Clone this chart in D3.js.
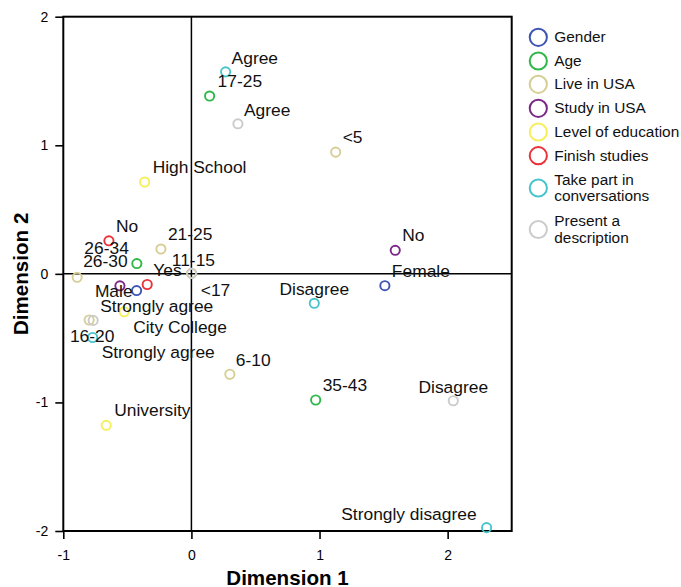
<!DOCTYPE html>
<html>
<head>
<meta charset="utf-8">
<script src="https://cdn.jsdelivr.net/npm/d3@7"></script>
<style>
  html, body { margin: 0; padding: 0; background: #fff; }
  svg { display: block; font-family: "Liberation Sans", Arial, sans-serif; }
</style>
</head>
<body>
<svg id="chart" width="681" height="587"></svg>
<script>
// Variable groups (legend order) and their colours
const groups = ["Gender", "Age", "Live in USA", "Study in USA", "Level of education",
                "Finish studies", "Take part in\nconversations", "Present a\ndescription"];
const groupColors = ["#3e55b6", "#2fb84a", "#d6ce94", "#7a2a86", "#f6ef5c",
                     "#ea3339", "#48c5cc", "#cbcbcb"];

// Category points: label, group index, Dimension 1, Dimension 2
const pointLabels = ["Male", "Female",
                     "17-25", "26-34", "35-43",
                     "<5", "6-10", "11-15", "16-20", "21-25", "26-30",
                     "Yes", "No",
                     "High School", "City College", "University",
                     "Yes", "No",
                     "Agree", "Disagree", "Strongly agree", "Strongly disagree",
                     "Agree", "Disagree", "Strongly agree", "<17"];
const pointGroup  = [0, 0,
                     1, 1, 1,
                     2, 2, 2, 2, 2, 2,
                     3, 3,
                     4, 4, 4,
                     5, 5,
                     6, 6, 6, 6,
                     7, 7, 7, 7];
const dim1 = [-0.428, 1.51,
              0.142, -0.426, 0.97,
              1.126, 0.30, 0.00, -0.798, -0.238, -0.892,
              -0.558, 1.591,
              -0.365, -0.525, -0.665,
              -0.345, -0.644,
              0.267, 0.959, -0.771, 2.304,
              0.363, 2.044, -0.767, 0.003];
const dim2 = [-0.130, -0.092,
              1.383, 0.080, -0.981,
              0.947, -0.781, 0.004, -0.359, 0.193, -0.027,
              -0.093, 0.183,
              0.714, -0.295, -1.178,
              -0.083, 0.257,
              1.571, -0.229, -0.495, -1.974,
              1.167, -0.987, -0.362, 0.004];
const showLabel = [true, true,
                   true, true, true,
                   true, true, true, true, true, true,
                   false, true,
                   true, true, true,
                   true, true,
                   true, true, true, true,
                   true, true, true, true];

// Label placement relative to each point: [dx, dy, text-anchor]
const labelPlacement = [
  [-4, 6, "end"], [7, -9, "start"],
  [8, -9, "start"], [-8, -10, "end"], [7, -9, "start"],
  [7, -9, "start"], [6, -8, "start"], [2, -7, "middle"], [3, 22, "middle"], [7, -9, "start"], [6, -10, "start"],
  [7, -9, "start"], [7, -9, "start"],
  [8, -9, "start"], [9, 21, "start"], [8, -9, "start"],
  [6, -9, "start"], [7, -9, "start"],
  [6, -8, "start"], [0, -8, "middle"], [9, 21, "start"], [-10, -8, "end"],
  [6, -8, "start"], [0, -8, "middle"], [7, -8, "start"], [9, 23, "start"]
];

const xTicks = [-1, 0, 1, 2];
const yTicks = [-2, -1, 0, 1, 2];

const svg = d3.select("#chart");
const plotLeft = 63.3, plotRight = 511.7, plotTop = 16.7, plotBottom = 531;

const x = d3.scaleLinear().domain([-1, 2.5]).range([plotLeft, plotRight]);
const y = d3.scaleLinear().domain([-2, 2]).range([plotBottom, plotTop]);

// Axes with outward ticks
const xAxis = svg.append("g")
  .attr("transform", `translate(0,${plotBottom})`)
  .call(d3.axisBottom(x).tickValues(xTicks).tickSize(8).tickPadding(11));
const yAxis = svg.append("g")
  .attr("transform", `translate(${plotLeft},0)`)
  .call(d3.axisLeft(y).tickValues(yTicks).tickSize(8).tickPadding(7));
[xAxis, yAxis].forEach(a => {
  a.select(".domain").remove();
  a.selectAll(".tick line").attr("stroke", "#000").attr("stroke-width", 1.6);
  a.selectAll(".tick text").attr("fill", "#000").style("font-size", "14px")
    .style("font-family", "'Liberation Sans', Arial, sans-serif")
    .text(d => String(d));
});

// Reference lines through the origin
svg.append("line").attr("x1", x(0)).attr("x2", x(0)).attr("y1", plotTop).attr("y2", plotBottom)
  .attr("stroke", "#000").attr("stroke-width", 1.5);
svg.append("line").attr("x1", plotLeft).attr("x2", plotRight).attr("y1", y(0)).attr("y2", y(0))
  .attr("stroke", "#000").attr("stroke-width", 1.5);

// Plot frame
svg.append("rect").attr("x", plotLeft).attr("y", plotTop)
  .attr("width", plotRight - plotLeft).attr("height", plotBottom - plotTop)
  .attr("fill", "none").attr("stroke", "#000").attr("stroke-width", 2);

// Category points
const idx = d3.range(pointLabels.length);
svg.append("g").selectAll("circle").data(idx).join("circle")
  .attr("cx", i => x(dim1[i]))
  .attr("cy", i => y(dim2[i]))
  .attr("r", 4.6)
  .attr("fill", "none")
  .attr("stroke", i => groupColors[pointGroup[i]])
  .attr("stroke-width", 1.9);

// Category labels
svg.append("g").selectAll("text").data(idx.filter(i => showLabel[i])).join("text")
  .attr("x", i => x(dim1[i]) + labelPlacement[i][0])
  .attr("y", i => y(dim2[i]) + labelPlacement[i][1])
  .attr("text-anchor", i => labelPlacement[i][2])
  .style("font-size", "17.4px")
  .attr("fill", "#111")
  .text(i => pointLabels[i]);

// Axis titles
svg.append("text")
  .attr("x", (plotLeft + plotRight) / 2).attr("y", 585)
  .attr("text-anchor", "middle")
  .style("font-size", "20.6px").style("font-weight", "bold")
  .text("Dimension 1");
svg.append("text")
  .attr("transform", `translate(28,${(plotTop + plotBottom) / 2}) rotate(-90)`)
  .attr("text-anchor", "middle")
  .style("font-size", "20.6px").style("font-weight", "bold")
  .text("Dimension 2");

// Legend
const legendY = [37.3, 61, 84.3, 108.3, 132, 155.7, 188, 229.5];
const legend = svg.append("g");
groups.forEach((g, i) => {
  legend.append("circle")
    .attr("cx", 538.3).attr("cy", legendY[i]).attr("r", 8.6)
    .attr("fill", "none").attr("stroke", groupColors[i]).attr("stroke-width", 2);
  const lines = g.split("\n");
  const t = legend.append("text")
    .attr("x", 554.3)
    .attr("y", legendY[i] + 5 - (lines.length - 1) * 8.3)
    .style("font-size", "15.4px").attr("fill", "#111");
  lines.forEach((ln, k) => {
    t.append("tspan").attr("x", 554.3).attr("dy", k === 0 ? 0 : 16.7).text(ln);
  });
});
</script>
</body>
</html>
